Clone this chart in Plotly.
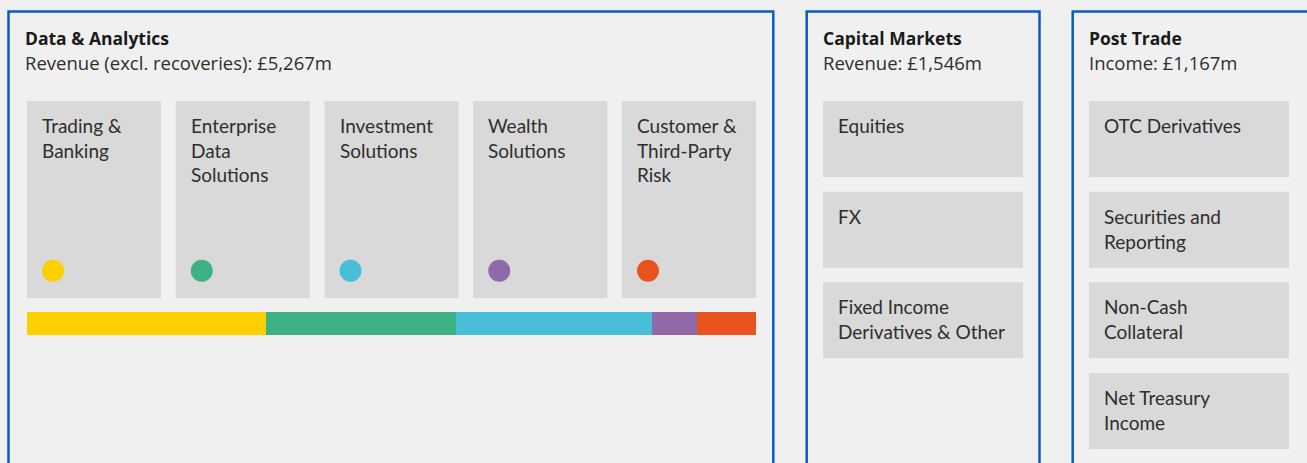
import plotly.graph_objects as go

# ---------------- data ----------------
da_title = "Data & Analytics"
da_subtitle = "Revenue (excl. recoveries): £5,267m"
da_categories = ["Trading &<br>Banking", "Enterprise<br>Data<br>Solutions", "Investment<br>Solutions",
                 "Wealth<br>Solutions", "Customer &<br>Third-Party<br>Risk"]
da_values = [1727, 1373, 1416, 325, 426]
da_colors = ["#FFD000", "#3DB184", "#49BED9", "#9169A9", "#E9531E"]

cm_title = "Capital Markets"
cm_subtitle = "Revenue: £1,546m"
cm_categories = ["Equities", "FX", "Fixed Income<br>Derivatives & Other"]

pt_title = "Post Trade"
pt_subtitle = "Income: £1,167m"
pt_categories = ["OTC Derivatives", "Securities and<br>Reporting", "Non-Cash<br>Collateral",
                 "Net Treasury<br>Income"]

# ---------------- style / layout constants ----------------
W, H = 1307, 463
BG = "#F0F0F0"
BOX = "#D9D9D9"
BLUE = "#0A5BC4"
TXT = "#2E2E2E"
TITLE_TXT = "#1A1A1A"
BOX_FONT = dict(family="Lato", size=19, color=TXT)
TITLE_FONT = dict(family="Open Sans", size=17.5, color=TITLE_TXT)
SUB_FONT = dict(family="Open Sans", size=18.5, color=TXT)

fig = go.Figure()
shapes = []
annotations = []

# panels
panels = [
    dict(x0=8.5, x1=773.3, tx=25, title=da_title, sub=da_subtitle),
    dict(x0=806.7, x1=1039.5, tx=823, title=cm_title, sub=cm_subtitle),
    dict(x0=1072.7, x1=1330, tx=1089, title=pt_title, sub=pt_subtitle),
]
for p in panels:
    shapes.append(dict(type="rect", xref="x", yref="y", x0=p["x0"], x1=p["x1"], y0=11.5, y1=520,
                       line=dict(color=BLUE, width=2.5), fillcolor="rgba(0,0,0,0)", layer="below"))
    annotations.append(dict(xref="x", yref="y", x=p["tx"] - 2, y=37.7, text="<b>" + p["title"] + "</b>",
                            showarrow=False, xanchor="left", yanchor="middle", font=TITLE_FONT))
    annotations.append(dict(xref="x", yref="y", x=p["tx"] - 2, y=62.5, text=p["sub"],
                            showarrow=False, xanchor="left", yanchor="middle", font=SUB_FONT))

TEXT_DY = 25  # first-line centre below box top
LINE_H = 25


def add_box(x0, x1, y0, y1, label):
    shapes.append(dict(type="rect", xref="x", yref="y", x0=x0, x1=x1, y0=y0, y1=y1,
                       line=dict(width=0), fillcolor=BOX, layer="below"))
    annotations.append(dict(xref="x", yref="y", x=x0 + 15 - 2, y=y0 + TEXT_DY,
                            text=label, showarrow=False, xanchor="left", yanchor="top",
                            align="left", font=BOX_FONT, yshift=LINE_H * 0.52 + 1))


# Data & Analytics boxes
da_left, da_right = 27, 756
da_box_w = 134
da_pitch = (da_right - da_left - da_box_w) / (len(da_categories) - 1)
dot_x = []
for i, lab in enumerate(da_categories):
    x0 = da_left + i * da_pitch
    add_box(x0, x0 + da_box_w, 101, 298, lab)
    dot_x.append(x0 + 26)

# Capital Markets / Post Trade boxes
row_pitch = (373 - 101) / 3
for i, lab in enumerate(cm_categories):
    y0 = 101 + i * row_pitch
    add_box(823, 1023, y0, y0 + 76, lab)
for i, lab in enumerate(pt_categories):
    y0 = 101 + i * row_pitch
    add_box(1089, 1289, y0, y0 + 76, lab)

# coloured dots
fig.add_trace(go.Scatter(x=dot_x, y=[270.7] * len(dot_x), mode="markers", xaxis="x", yaxis="y",
                         marker=dict(size=22, color=da_colors, line=dict(width=0)),
                         hoverinfo="skip", showlegend=False, cliponaxis=False))

# stacked revenue bar
for v, c, lab in zip(da_values, da_colors, da_categories):
    fig.add_trace(go.Bar(x=[v], y=[0], orientation="h", xaxis="x2", yaxis="y2",
                         marker=dict(color=c, line=dict(width=0)), width=1,
                         name=lab.replace("<br>", " "), showlegend=False))

fig.update_layout(
    width=W, height=H, margin=dict(l=0, r=0, t=0, b=0),
    paper_bgcolor=BG, plot_bgcolor=BG, barmode="stack", bargap=0,
    xaxis=dict(range=[0, W], visible=False, domain=[0, 1], fixedrange=True),
    yaxis=dict(range=[H, 0], visible=False, domain=[0, 1], fixedrange=True),
    xaxis2=dict(range=[0, sum(da_values)], visible=False, anchor="y2",
                domain=[da_left / W, da_right / W], fixedrange=True),
    yaxis2=dict(range=[-0.5, 0.5], visible=False, anchor="x2",
                domain=[(H - 335) / H, (H - 312) / H], fixedrange=True),
    shapes=shapes, annotations=annotations,
)

fig.write_html("out.html", config={"displayModeBar": False},
               post_script="document.body.style.margin='0';document.body.style.background='#F0F0F0';")
